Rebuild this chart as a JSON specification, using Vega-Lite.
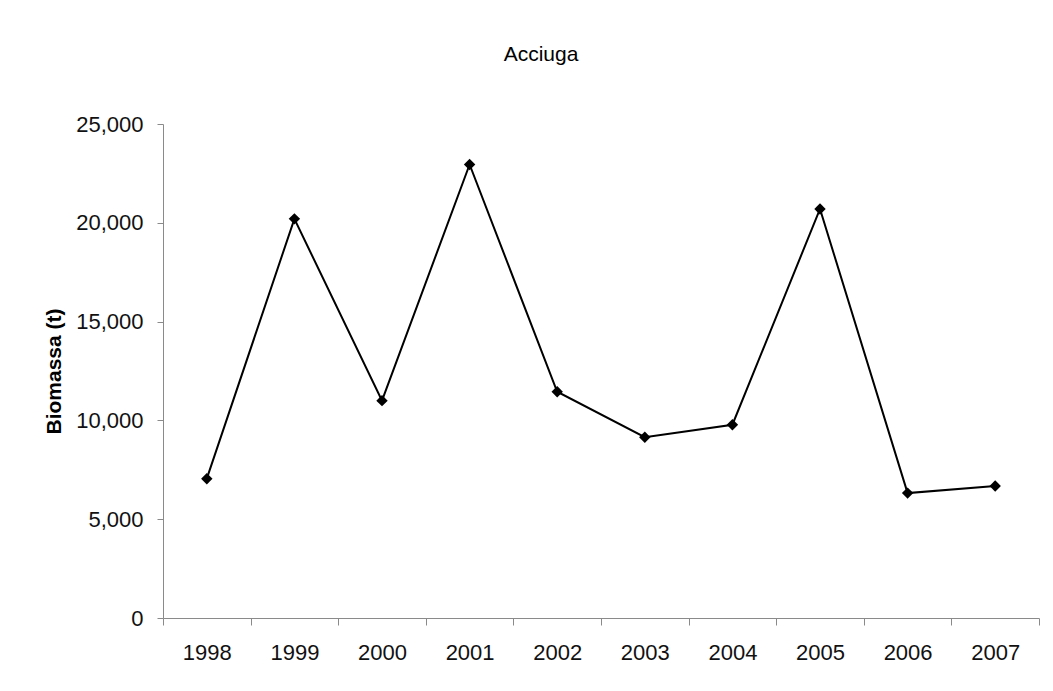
{
  "$schema": "https://vega.github.io/schema/vega-lite/v6.json",
  "autosize": "none",
  "width": 876,
  "height": 494,
  "padding": {"left": 163, "top": 124, "right": 14, "bottom": 73},
  "background": "white",
  "title": {
    "text": "Acciuga",
    "font": "Liberation Sans",
    "fontSize": 21,
    "fontWeight": "normal",
    "color": "#000000",
    "anchor": "middle",
    "dx": -60,
    "baseline": "alphabetic",
    "offset": 31
  },
  "config": {
    "view": {"stroke": null},
    "axis": {
      "labelFont": "Liberation Sans",
      "labelFontSize": 22,
      "labelColor": "#111111",
      "titleFont": "Liberation Sans",
      "titleFontSize": 21,
      "titleColor": "#000000",
      "domainColor": "#8a8a8a",
      "tickColor": "#8a8a8a",
      "grid": false
    }
  },
  "data": {
    "values": [
      {"year": "1998", "biomassa": 7050},
      {"year": "1999", "biomassa": 20200},
      {"year": "2000", "biomassa": 11000},
      {"year": "2001", "biomassa": 22950},
      {"year": "2002", "biomassa": 11450},
      {"year": "2003", "biomassa": 9150},
      {"year": "2004", "biomassa": 9780},
      {"year": "2005", "biomassa": 20700},
      {"year": "2006", "biomassa": 6320},
      {"year": "2007", "biomassa": 6680}
    ]
  },
  "encoding": {
    "x": {
      "field": "year",
      "type": "ordinal",
      "bandPosition": 0.5,
      "scale": {"type": "band", "paddingInner": 0, "paddingOuter": 0},
      "axis": {
        "title": null,
        "labelAngle": 0,
        "tickBand": "extent",
        "tickSize": 7,
        "labelPadding": 17
      }
    },
    "y": {
      "field": "biomassa",
      "type": "quantitative",
      "scale": {"domain": [0, 25000], "nice": false},
      "axis": {
        "title": "Biomassa (t)",
        "titleFontWeight": "bold",
        "values": [0, 5000, 10000, 15000, 20000, 25000],
        "format": ",.0f",
        "tickSize": 6,
        "labelPadding": 14,
        "titlePadding": 11
      }
    }
  },
  "layer": [
    {"mark": {"type": "line", "color": "#000000", "strokeWidth": 2}},
    {"mark": {"type": "point", "shape": "diamond", "filled": true, "color": "#000000", "size": 130, "opacity": 1}}
  ]
}
